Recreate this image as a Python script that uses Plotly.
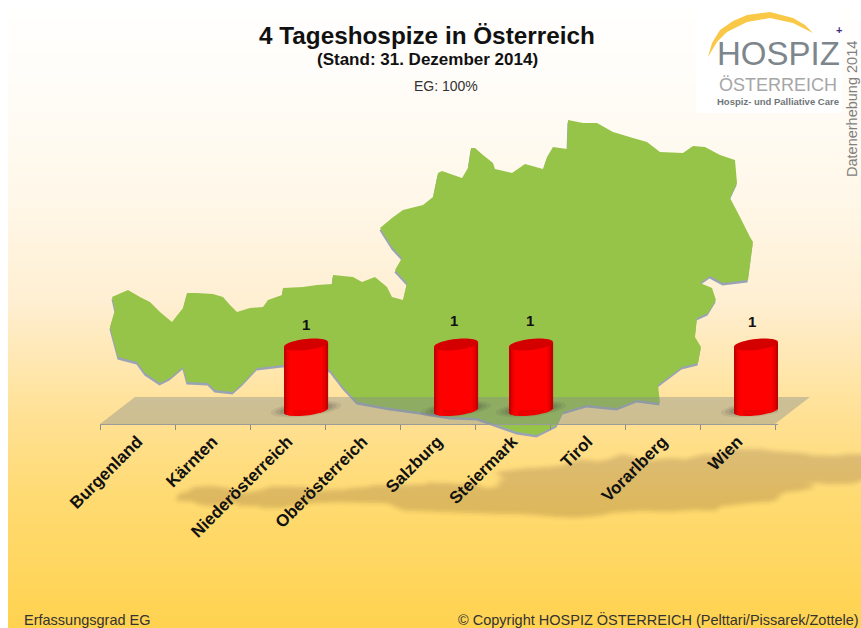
import math
import plotly.graph_objects as go

W, H = 861, 628
LEFT_STRIP = 8            # white strip left of the backdrop

# ---- data ----
CATEGORIES = ["Burgenland", "Kärnten", "Niederösterreich", "Oberösterreich", "Salzburg",
              "Steiermark", "Tirol", "Vorarlberg", "Wien"]
VALUES = [0, 0, 1, 0, 1, 1, 0, 0, 1]
LABEL_NUDGE_X = [0, 0, 0, 0, -2, -1, 0, 0, -4]
LABEL_NUDGE_Y = [0, 0, 20, 0, 24, 24, 0, 0, 23]

TITLE = "4 Tageshospize in Österreich"
SUBTITLE = "(Stand: 31. Dezember 2014)"
COVERAGE = "EG: 100%"
FOOT_LEFT = "Erfassungsgrad EG"
FOOT_RIGHT = "© Copyright HOSPIZ ÖSTERREICH (Pelttari/Pissarek/Zottele)"
SIDE_TEXT = "Datenerhebung 2014"

# decorative backdrop (Austria silhouette, page pixels)
MAP_OUTLINE = [
    (112, 297), (128, 290), (140, 297), (150, 302), (160, 312), (172, 322), (183, 308), (187, 293),
    (197, 293), (213, 294), (223, 297), (230, 305), (237, 312), (250, 308), (263, 307), (268, 300),
    (282, 295), (283, 288), (303, 287), (317, 285), (332, 284), (333, 275), (353, 277), (362, 282),
    (375, 277), (387, 287), (392, 297), (403, 300), (407, 283), (395, 270), (402, 258), (392, 247),
    (380, 228), (392, 218), (403, 210), (423, 205), (433, 197), (438, 173), (442, 171), (462, 178),
    (468, 168), (471, 148), (475, 148), (483, 155), (493, 163), (495, 169), (512, 173), (525, 164),
    (543, 169), (547, 157), (553, 147), (567, 149), (568, 120), (583, 123), (597, 123), (613, 132),
    (633, 138), (647, 142), (660, 152), (683, 153), (693, 146), (705, 147), (720, 155), (735, 160),
    (737, 183), (730, 198), (740, 217), (750, 237), (753, 242), (748, 280), (723, 283), (710, 276),
    (700, 283), (712, 288), (716, 300), (708, 313), (697, 318), (695, 337), (701, 347), (698, 363),
    (682, 367), (658, 385), (660, 403), (637, 400), (617, 408), (587, 405), (563, 412), (557, 425),
    (537, 435), (517, 432), (497, 425), (477, 418), (450, 417), (420, 412), (390, 408), (357, 402),
    (343, 387), (330, 370), (283, 365), (257, 368), (243, 383), (233, 392), (215, 390), (208, 383),
    (187, 382), (183, 367), (170, 378), (160, 383), (145, 373), (137, 362), (118, 357), (110, 327),
    (115, 310),
]
FLOOR = [(100, 424), (135, 397), (810, 397), (775, 424)]
CRESCENT = [(708, 57), (712, 43), (720, 30), (733, 21), (747, 15), (770, 12), (793, 18), (805, 25), (813, 33),
            (793, 23), (770, 18), (747, 22), (727, 32), (717, 42)]
BG_STOPS = [(0, (255, 255, 255)), (100, (255, 252, 246)), (200, (255, 247, 232)), (300, (255, 239, 210)),
            (400, (255, 226, 155)), (500, (255, 218, 112)), (628, (255, 210, 79))]

# ---- geometry of the drawing ----
PLOT_L, PLOT_R, AXIS_Y = 100, 775, 424
AXIS_EXTRA = 3            # room for the last cylinder, which leans past the final tick
UNIT_PX = 65.5            # pixels per one count
ZERO_PX = 410             # pixel row of count 0
Y_TOP = 2.0
CAT_PX = (PLOT_R - PLOT_L) / len(CATEGORIES)
HALF = 22 / CAT_PX        # half cylinder width, category units
SHIFT = 18.5 / CAT_PX     # 3-D shift of the cylinder off the category centre
TILT, MINOR = 2.3, 5.5    # pixels


def fx(x):
    return x / W


def fy(y):
    return 1 - y / H


def paper_path(pts):
    return "M" + " L".join(f"{fx(x):.5f},{fy(y):.5f}" for x, y in pts) + " Z"


def ellipse_path(i, level, scale_x=1.0, scale_y=1.0, dx=0.0, dy=0.0):
    pts = []
    for k in range(48):
        t = 2 * math.pi * k / 48
        c, s = math.cos(t), math.sin(t)
        px = i + SHIFT + dx / CAT_PX + HALF * scale_x * c
        py = level + (dy + (TILT * scale_x * c + MINOR * scale_y * s)) / UNIT_PX
        pts.append(f"{px:.4f},{py:.4f}")
    return "M" + " L".join(pts) + " Z"


shapes = []


def add_paper(path, fill):
    shapes.append(dict(type="path", xref="paper", yref="paper", path=path, fillcolor=fill,
                       line=dict(width=0), layer="below"))


# background gradient
STEP = 4
for y in range(0, H, STEP):
    for (y0, c0), (y1, c1) in zip(BG_STOPS, BG_STOPS[1:]):
        if y0 <= y <= y1:
            f = (y - y0) / (y1 - y0)
            col = tuple(round(a + (b - a) * f) for a, b in zip(c0, c1))
            break
    shapes.append(dict(type="rect", xref="paper", yref="paper", x0=fx(LEFT_STRIP), x1=1, y0=fy(y + STEP), y1=fy(y),
                       fillcolor=f"rgb{col}", line=dict(width=0), layer="below"))

# soft ground shadow of the map: offset copies of one sheared silhouette
ground = [(1.03 * x - 0.39 * y + 193, 0.22 * y + 422) for x, y in MAP_OUTLINE]
blur = [(0, 0)] + [(r * math.cos(a * math.pi / 4), r * math.sin(a * math.pi / 4))
                   for r in (2.0, 4.0) for a in range(8)]
for ox, oy in blur:
    add_paper(paper_path([(x + ox, y + oy) for x, y in ground]), "rgba(110,95,110,0.012)")

# map with its small drop shadow
add_paper(paper_path([(x - 0.5, y + 2.5) for x, y in MAP_OUTLINE]), "#9aa3b5")
add_paper(paper_path(MAP_OUTLINE), "#96c449")
# floor
add_paper(paper_path(FLOOR), "rgba(130,140,140,0.40)")

# logo
shapes.append(dict(type="rect", xref="paper", yref="paper", x0=fx(696), x1=fx(842), y0=fy(113), y1=1,
                   fillcolor="#ffffff", line=dict(width=0), layer="below"))
add_paper(paper_path(CRESCENT), "#f9c846")

# cylinder contact shadows and bottom faces (under the bars)
for i, v in enumerate(VALUES):
    if v:
        for sx, sy, a in ((1.6, 1.35, 0.10), (1.4, 1.1, 0.14), (1.2, 0.9, 0.18)):
            shapes.append(dict(type="path", xref="x", yref="y", layer="below",
                               path=ellipse_path(i, 0, sx, sy, dx=0, dy=1),
                               fillcolor=f"rgba(70,70,70,{a})", line=dict(width=0)))
        shapes.append(dict(type="path", xref="x", yref="y", layer="below", path=ellipse_path(i, 0),
                           fillcolor="#ee0000", line=dict(width=0)))
        # top face goes above the bars
        shapes.append(dict(type="path", xref="x", yref="y", layer="above", path=ellipse_path(i, v),
                           fillcolor="#d40000", line=dict(width=0)))

fig = go.Figure()

# the bars: central body carries the value
CORE = 0.6
fig.add_trace(go.Bar(x=CATEGORIES, y=VALUES, width=2 * CORE * HALF, offset=SHIFT - CORE * HALF,
                     marker=dict(color="#ff0000", line=dict(width=0)), showlegend=False, hoverinfo="x+y",
                     cliponaxis=False))

# shaded round flanks of the cylinders
N_STRIP = 6
du = (1 - CORE) / N_STRIP
for side in (-1, 1):
    for k in range(N_STRIP):
        u = side * (CORE + (k + 0.5) * du)
        bottom = (TILT * u - MINOR * math.sqrt(1 - u * u)) / UNIT_PX
        top = TILT * u / UNIT_PX
        shade = k / (N_STRIP - 1)
        col = f"rgb({round(255 - 60 * shade ** 2.2)},0,0)"
        fig.add_trace(go.Bar(
            x=CATEGORIES,
            y=[(v + top - bottom) if v else None for v in VALUES],
            base=[bottom] * len(VALUES),
            width=du * HALF * 1.08,
            offset=SHIFT + (u - du / 2) * HALF,
            marker=dict(color=col, line=dict(width=0)),
            showlegend=False, hoverinfo="skip", cliponaxis=False))

ann = []


def text(x, y, s, size, color="#000000", bold=False, anchor="center", angle=0, family="Liberation Sans"):
    ann.append(dict(xref="paper", yref="paper", x=fx(x), y=fy(y), text=f"<b>{s}</b>" if bold else s,
                    showarrow=False, xanchor=anchor, yanchor="middle", textangle=angle,
                    font=dict(size=size, color=color, family=family)))


text(427, 36, TITLE, 24.3, "#111111", True)
text(427.5, 59, SUBTITLE, 17, "#111111", True)
text(446, 86, COVERAGE, 14, "#333333")
text(22, 620, FOOT_LEFT, 14.5, "#333333", anchor="left")
text(861, 619, FOOT_RIGHT, 14.5, "#333333", anchor="right")
text(852, 109, SIDE_TEXT, 14.5, "#7f7f7f", angle=-90)
text(778, 53, "HOSPIZ", 33, "#7d868c")
text(778, 85, "ÖSTERREICH", 18, "#a6a6a6")
text(778, 102, "Hospiz- und Palliative Care", 9.5, "#6f767a", True)
text(839, 30, "+", 11, "#3b2f80", True)

for i, v in enumerate(VALUES):
    if v:
        ann.append(dict(x=CATEGORIES[i], y=v, xref="x", yref="y", text=f"<b>{v}</b>", showarrow=False,
                        xshift=SHIFT * CAT_PX + LABEL_NUDGE_X[i], yshift=LABEL_NUDGE_Y[i],
                        yanchor="middle", font=dict(size=15, color="#111111", family="Liberation Sans")))

y_bottom = -(AXIS_Y - ZERO_PX) / UNIT_PX
top_px = ZERO_PX - Y_TOP * UNIT_PX

fig.update_layout(
    width=W, height=H, autosize=False,
    margin=dict(l=0, r=0, t=0, b=0),
    paper_bgcolor="#ffffff", plot_bgcolor="rgba(0,0,0,0)",
    barmode="overlay",
    shapes=shapes, annotations=ann,
    xaxis=dict(type="category", categoryorder="array", categoryarray=CATEGORIES,
               domain=[fx(PLOT_L), fx(PLOT_R + AXIS_EXTRA)],
               range=[-0.5, len(CATEGORIES) - 0.5 + AXIS_EXTRA / CAT_PX],
               tickson="boundaries", ticks="outside", ticklen=5, tickcolor="#8c8c8c", tickwidth=1,
               showline=True, linecolor="#9a9a9a", linewidth=1, showgrid=False, zeroline=False,
               tickangle=-45, tickfont=dict(size=17, color="#111111", family="Liberation Sans"),
               ticktext=[f"<b>{c}</b>" for c in CATEGORIES], tickvals=CATEGORIES, automargin=False),
    yaxis=dict(domain=[fy(AXIS_Y), fy(top_px)], range=[y_bottom, Y_TOP], visible=False, fixedrange=True),
)

fig.write_html("out.html", default_width=f"{W}px", default_height=f"{H}px",
               config=dict(displayModeBar=False),
               post_script="document.body.style.margin='0';document.documentElement.style.overflow='hidden';")
